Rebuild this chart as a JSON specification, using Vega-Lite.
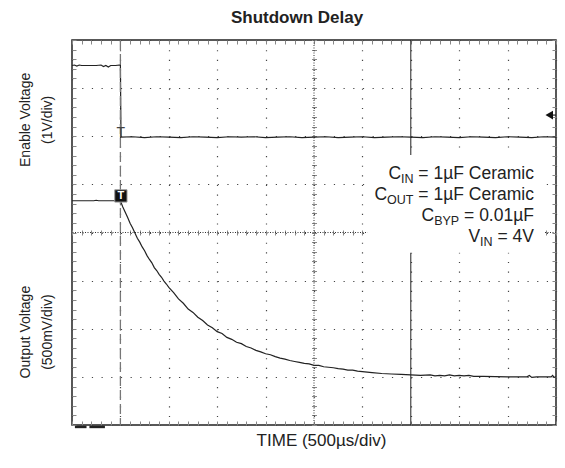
{
  "$schema": "https://vega.github.io/schema/vega-lite/v6.json",
  "width": 484,
  "height": 385,
  "autosize": "none",
  "padding": {"left": 72, "top": 40, "right": 9, "bottom": 43},
  "background": "white",
  "config": {"view": {"stroke": "#222", "strokeWidth": 1.5}, "font": "Liberation Sans"},
  "resolve": {"axis": {"x": "independent", "y": "independent"}},
  "datasets": {
    "enable": [
      {"t": 0, "v": 7.47}, {"t": 0.05, "v": 7.48}, {"t": 0.1, "v": 7.46}, {"t": 0.15, "v": 7.48}, {"t": 0.2, "v": 7.47},
      {"t": 0.3, "v": 7.47}, {"t": 0.4, "v": 7.47}, {"t": 0.5, "v": 7.47}, {"t": 0.6, "v": 7.48}, {"t": 0.65, "v": 7.45},
      {"t": 0.7, "v": 7.47}, {"t": 0.75, "v": 7.44}, {"t": 0.8, "v": 7.47}, {"t": 0.9, "v": 7.47}, {"t": 1.0, "v": 7.48},
      {"t": 1.012, "v": 5.98}, {"t": 1.25, "v": 5.99}, {"t": 1.5, "v": 5.97}, {"t": 1.75, "v": 5.99}, {"t": 2.0, "v": 5.98},
      {"t": 2.25, "v": 5.97}, {"t": 2.5, "v": 5.99}, {"t": 2.75, "v": 5.98}, {"t": 3.0, "v": 5.97}, {"t": 3.25, "v": 5.99},
      {"t": 3.5, "v": 5.98}, {"t": 3.75, "v": 5.99}, {"t": 4.0, "v": 5.97}, {"t": 4.25, "v": 5.98}, {"t": 4.5, "v": 5.99},
      {"t": 4.75, "v": 5.97}, {"t": 5.0, "v": 5.98}, {"t": 5.25, "v": 5.99}, {"t": 5.5, "v": 5.97}, {"t": 5.75, "v": 5.98},
      {"t": 6.0, "v": 5.99}, {"t": 6.25, "v": 5.97}, {"t": 6.5, "v": 5.98}, {"t": 6.75, "v": 5.99}, {"t": 7.0, "v": 5.98},
      {"t": 7.25, "v": 5.97}, {"t": 7.5, "v": 5.99}, {"t": 7.75, "v": 5.98}, {"t": 8.0, "v": 5.97}, {"t": 8.25, "v": 5.99},
      {"t": 8.5, "v": 5.98}, {"t": 8.75, "v": 5.97}, {"t": 9.0, "v": 5.99}, {"t": 9.25, "v": 5.98}, {"t": 9.5, "v": 5.97},
      {"t": 9.75, "v": 5.99}, {"t": 10, "v": 5.98}
    ],
    "output": [
      {"t": 0, "v": 4.66}, {"t": 0.3, "v": 4.66}, {"t": 0.45, "v": 4.66}, {"t": 0.5, "v": 4.67}, {"t": 0.55, "v": 4.66},
      {"t": 1.0, "v": 4.66}, {"t": 1.05, "v": 4.53}, {"t": 1.1, "v": 4.42}, {"t": 1.15, "v": 4.31}, {"t": 1.2, "v": 4.19},
      {"t": 1.25, "v": 4.10}, {"t": 1.3, "v": 3.99}, {"t": 1.35, "v": 3.88}, {"t": 1.4, "v": 3.80}, {"t": 1.45, "v": 3.70},
      {"t": 1.5, "v": 3.62}, {"t": 1.55, "v": 3.52}, {"t": 1.6, "v": 3.44}, {"t": 1.65, "v": 3.37}, {"t": 1.7, "v": 3.27},
      {"t": 1.75, "v": 3.21}, {"t": 1.8, "v": 3.13}, {"t": 1.85, "v": 3.07}, {"t": 1.9, "v": 2.99}, {"t": 1.95, "v": 2.93},
      {"t": 2.0, "v": 2.86}, {"t": 2.1, "v": 2.75}, {"t": 2.2, "v": 2.62}, {"t": 2.3, "v": 2.53}, {"t": 2.4, "v": 2.41},
      {"t": 2.5, "v": 2.34}, {"t": 2.6, "v": 2.24}, {"t": 2.7, "v": 2.17}, {"t": 2.8, "v": 2.08}, {"t": 2.9, "v": 2.02},
      {"t": 3.0, "v": 1.94}, {"t": 3.1, "v": 1.90}, {"t": 3.2, "v": 1.82}, {"t": 3.3, "v": 1.78}, {"t": 3.4, "v": 1.72},
      {"t": 3.5, "v": 1.69}, {"t": 3.6, "v": 1.63}, {"t": 3.7, "v": 1.60}, {"t": 3.8, "v": 1.55}, {"t": 3.9, "v": 1.52},
      {"t": 4.0, "v": 1.48}, {"t": 4.1, "v": 1.46}, {"t": 4.2, "v": 1.42}, {"t": 4.3, "v": 1.39}, {"t": 4.4, "v": 1.37},
      {"t": 4.5, "v": 1.34}, {"t": 4.6, "v": 1.32}, {"t": 4.7, "v": 1.30}, {"t": 4.8, "v": 1.28}, {"t": 4.9, "v": 1.27},
      {"t": 5.0, "v": 1.24}, {"t": 5.1, "v": 1.24}, {"t": 5.2, "v": 1.21}, {"t": 5.3, "v": 1.20}, {"t": 5.4, "v": 1.19},
      {"t": 5.5, "v": 1.17}, {"t": 5.6, "v": 1.16}, {"t": 5.7, "v": 1.14}, {"t": 5.8, "v": 1.14}, {"t": 5.9, "v": 1.12},
      {"t": 6.0, "v": 1.11}, {"t": 6.2, "v": 1.09}, {"t": 6.4, "v": 1.07}, {"t": 6.6, "v": 1.06}, {"t": 6.8, "v": 1.05},
      {"t": 7.0, "v": 1.04}, {"t": 7.2, "v": 1.03}, {"t": 7.4, "v": 1.04}, {"t": 7.5, "v": 1.02}, {"t": 7.6, "v": 1.03},
      {"t": 7.7, "v": 1.02}, {"t": 7.8, "v": 1.04}, {"t": 7.9, "v": 1.02}, {"t": 8.0, "v": 1.03}, {"t": 8.1, "v": 1.02},
      {"t": 8.2, "v": 1.03}, {"t": 8.3, "v": 1.01}, {"t": 8.5, "v": 1.01}, {"t": 9.0, "v": 1.0}, {"t": 9.4, "v": 1.0},
      {"t": 9.45, "v": 1.03}, {"t": 9.5, "v": 0.99}, {"t": 9.6, "v": 1.0}, {"t": 9.9, "v": 1.0}, {"t": 9.93, "v": 1.03},
      {"t": 9.96, "v": 0.99}, {"t": 10, "v": 1.0}
    ],
    "notes": [
      {"s": "C", "px": 6.798, "py": 5.104, "role": "main"},
      {"s": "= 1µF Ceramic", "px": 9.545, "py": 5.104, "role": "main"},
      {"s": "IN", "px": 7.056, "py": 5.02, "role": "sub"},
      {"s": "C", "px": 6.51, "py": 4.678, "role": "main"},
      {"s": "= 1µF Ceramic", "px": 9.545, "py": 4.678, "role": "main"},
      {"s": "OUT", "px": 7.056, "py": 4.595, "role": "sub"},
      {"s": "C", "px": 7.483, "py": 4.247, "role": "main"},
      {"s": "= 0.01µF", "px": 9.545, "py": 4.247, "role": "main"},
      {"s": "BYP", "px": 8.0, "py": 4.164, "role": "sub"},
      {"s": "V", "px": 8.432, "py": 3.811, "role": "main"},
      {"s": "= 4V", "px": 9.545, "py": 3.811, "role": "main"},
      {"s": "IN", "px": 8.69, "py": 3.728, "role": "sub"}
    ],
    "ytitles": [
      {"s": "Enable Voltage\n(1V/div)", "px": -0.95, "py": 6.34},
      {"s": "Output Voltage\n(500mV/div)", "px": -0.95, "py": 1.93}
    ],
    "gnd": [
      {"a": 0.06, "b": 0.3, "y": -0.04},
      {"a": 0.36, "b": 0.68, "y": -0.04}
    ]
  },
  "layer": [
    {
      "data": {"values": [{}]},
      "mark": {"type": "rule", "color": "#333", "strokeWidth": 1, "strokeDash": [1, 1.5]},
      "encoding": {
        "x": {"datum": 5, "type": "quantitative", "scale": {"domain": [0, 10], "nice": false, "zero": false},
          "axis": {"orient": "bottom", "offset": -195, "values": [0,0.2,0.4,0.6,0.8,1,1.2,1.4,1.6,1.8,2,2.2,2.4,2.6,2.8,3,3.2,3.4,3.6,3.8,4,4.2,4.4,4.6,4.8,5,5.2,5.4,5.6,5.8,6,6.2,6.4,6.6,6.8,7,7.2,7.4,7.6,7.8,8,8.2,8.4,8.6,8.8,9,9.2,9.4,9.6,9.8,10],
            "ticks": true, "tickSize": 5, "tickColor": "#888", "tickWidth": 1, "labels": false, "domain": false, "grid": false, "title": null}}
      }
    },
    {
      "data": {"values": [{}]},
      "mark": {"type": "rule", "color": "#333", "strokeWidth": 1, "strokeDash": [1, 1.5]},
      "encoding": {
        "y": {"datum": 4, "type": "quantitative", "scale": {"domain": [0, 8], "nice": false, "zero": false},
          "axis": {"orient": "left", "offset": -244.5, "values": [0,0.2,0.4,0.6,0.8,1,1.2,1.4,1.6,1.8,2,2.2,2.4,2.6,2.8,3,3.2,3.4,3.6,3.8,4,4.2,4.4,4.6,4.8,5,5.2,5.4,5.6,5.8,6,6.2,6.4,6.6,6.8,7,7.2,7.4,7.6,7.8,8],
            "ticks": true, "tickSize": 5, "tickColor": "#888", "tickWidth": 1, "labels": false, "domain": false, "grid": false, "title": null}}
      }
    },
    {
      "data": {"name": "enable"},
      "mark": {"type": "line", "color": "#222", "strokeWidth": 1.2},
      "encoding": {
        "x": {"field": "t", "type": "quantitative", "scale": {"domain": [0, 10], "nice": false, "zero": false},
          "axis": {"orient": "bottom", "values": [0,1,2,3,4,5,6,7,8,9,10], "grid": true, "gridColor": "#444", "gridWidth": 1.2, "gridDash": [1.2, 8.425],
            "ticks": false, "labels": false, "domain": false, "title": "TIME (500µs/div)", "titleFont": "Liberation Sans", "titleFontSize": 17,
            "titleFontWeight": "normal", "titleColor": "#222", "titlePadding": 7, "titleX": 249}},
        "y": {"field": "v", "type": "quantitative", "scale": {"domain": [0, 8], "nice": false, "zero": false},
          "axis": {"orient": "left", "values": [0,1,2,3,4,5,6,7,8], "grid": true, "gridColor": "#444", "gridWidth": 1.2, "gridDash": [1.2, 8.48],
            "ticks": false, "labels": false, "domain": false, "title": null}}
      }
    },
    {
      "data": {"name": "output"},
      "mark": {"type": "line", "color": "#222", "strokeWidth": 1.2},
      "encoding": {
        "x": {"field": "t", "type": "quantitative", "scale": {"domain": [0, 10], "nice": false, "zero": false},
          "axis": {"orient": "top", "values": [0,0.2,0.4,0.6,0.8,1,1.2,1.4,1.6,1.8,2,2.2,2.4,2.6,2.8,3,3.2,3.4,3.6,3.8,4,4.2,4.4,4.6,4.8,5,5.2,5.4,5.6,5.8,6,6.2,6.4,6.6,6.8,7,7.2,7.4,7.6,7.8,8,8.2,8.4,8.6,8.8,9,9.2,9.4,9.6,9.8,10],
            "ticks": true, "tickSize": -4, "tickColor": "#888", "tickWidth": 1, "labels": false, "domain": false, "grid": false, "title": null}},
        "y": {"field": "v", "type": "quantitative", "scale": {"domain": [0, 8], "nice": false, "zero": false},
          "axis": {"orient": "right", "values": [0,0.2,0.4,0.6,0.8,1,1.2,1.4,1.6,1.8,2,2.2,2.4,2.6,2.8,3,3.2,3.4,3.6,3.8,4,4.2,4.4,4.6,4.8,5,5.2,5.4,5.6,5.8,6,6.2,6.4,6.6,6.8,7,7.2,7.4,7.6,7.8,8],
            "ticks": true, "tickSize": -4, "tickColor": "#888", "tickWidth": 1, "labels": false, "domain": false, "grid": false, "title": null}}
      }
    },
    {
      "data": {"values": [{}]},
      "mark": {"type": "rule", "color": "#777", "strokeWidth": 1.3, "strokeDash": [10, 4]},
      "encoding": {
        "x": {"datum": 1, "type": "quantitative", "scale": {"domain": [0, 10], "nice": false, "zero": false},
          "axis": {"orient": "bottom", "values": [0,0.2,0.4,0.6,0.8,1,1.2,1.4,1.6,1.8,2,2.2,2.4,2.6,2.8,3,3.2,3.4,3.6,3.8,4,4.2,4.4,4.6,4.8,5,5.2,5.4,5.6,5.8,6,6.2,6.4,6.6,6.8,7,7.2,7.4,7.6,7.8,8,8.2,8.4,8.6,8.8,9,9.2,9.4,9.6,9.8,10],
            "ticks": true, "tickSize": -4, "tickColor": "#888", "tickWidth": 1, "labels": false, "domain": false, "grid": false, "title": null}}
      }
    },
    {
      "data": {"values": [{}]},
      "mark": {"type": "rule", "color": "#222", "strokeWidth": 1},
      "encoding": {
        "x": {"datum": 7, "type": "quantitative", "scale": {"domain": [0, 10], "nice": false, "zero": false}, "axis": null}
      }
    },
    {
      "data": {"values": [{}]},
      "mark": {"type": "rect", "fill": "white"},
      "encoding": {
        "x": {"datum": 6.1, "type": "quantitative", "scale": {"domain": [0, 10], "nice": false, "zero": false}, "axis": null},
        "x2": {"datum": 9.77},
        "y": {"datum": 3.58, "type": "quantitative", "scale": {"domain": [0, 8], "nice": false, "zero": false},
          "axis": {"orient": "left", "values": [0,0.2,0.4,0.6,0.8,1,1.2,1.4,1.6,1.8,2,2.2,2.4,2.6,2.8,3,3.2,3.4,3.6,3.8,4,4.2,4.4,4.6,4.8,5,5.2,5.4,5.6,5.8,6,6.2,6.4,6.6,6.8,7,7.2,7.4,7.6,7.8,8],
            "ticks": true, "tickSize": -4, "tickColor": "#888", "tickWidth": 1, "labels": false, "domain": false, "grid": false, "title": null}},
        "y2": {"datum": 5.61}
      }
    },
    {
      "data": {"name": "ytitles"},
      "mark": {"type": "text", "angle": 270, "align": "center", "baseline": "middle", "fontSize": 14, "lineHeight": 22, "lineBreak": "\n", "color": "#222", "font": "Liberation Sans"},
      "encoding": {
        "x": {"field": "px", "type": "quantitative", "scale": {"domain": [0, 10], "nice": false, "zero": false}, "axis": null},
        "y": {"field": "py", "type": "quantitative", "scale": {"domain": [0, 8], "nice": false, "zero": false}, "axis": null},
        "text": {"field": "s"}
      }
    },
    {
      "data": {"values": [{"s": "Shutdown Delay", "px": 4.65, "py": 8.357}]},
      "mark": {"type": "text", "align": "center", "baseline": "alphabetic", "fontSize": 17, "fontWeight": "bold", "color": "#222", "font": "Liberation Sans"},
      "encoding": {
        "x": {"field": "px", "type": "quantitative", "scale": {"domain": [0, 10], "nice": false, "zero": false}, "axis": null},
        "y": {"field": "py", "type": "quantitative", "scale": {"domain": [0, 8], "nice": false, "zero": false}, "axis": null},
        "text": {"field": "s"}
      }
    },
    {
      "data": {"name": "notes"},
      "transform": [{"filter": "datum.role == 'main'"}],
      "mark": {"type": "text", "align": "right", "baseline": "alphabetic", "fontSize": 17.5, "color": "#222", "font": "Liberation Sans"},
      "encoding": {
        "x": {"field": "px", "type": "quantitative", "scale": {"domain": [0, 10], "nice": false, "zero": false}, "axis": null},
        "y": {"field": "py", "type": "quantitative", "scale": {"domain": [0, 8], "nice": false, "zero": false}, "axis": null},
        "text": {"field": "s"}
      }
    },
    {
      "data": {"name": "notes"},
      "transform": [{"filter": "datum.role == 'sub'"}],
      "mark": {"type": "text", "align": "right", "baseline": "alphabetic", "fontSize": 12.5, "color": "#222", "font": "Liberation Sans"},
      "encoding": {
        "x": {"field": "px", "type": "quantitative", "scale": {"domain": [0, 10], "nice": false, "zero": false}, "axis": null},
        "y": {"field": "py", "type": "quantitative", "scale": {"domain": [0, 8], "nice": false, "zero": false}, "axis": null},
        "text": {"field": "s"}
      }
    },
    {
      "data": {"values": [{}]},
      "mark": {"type": "point", "shape": "square", "filled": true, "size": 150, "color": "#111", "stroke": "#999", "strokeWidth": 1, "opacity": 1},
      "encoding": {
        "x": {"datum": 1.01, "type": "quantitative", "scale": {"domain": [0, 10], "nice": false, "zero": false}, "axis": null},
        "y": {"datum": 4.76, "type": "quantitative", "scale": {"domain": [0, 8], "nice": false, "zero": false}, "axis": null}
      }
    },
    {
      "data": {"values": [{}]},
      "mark": {"type": "text", "text": "T", "align": "center", "baseline": "middle", "fontSize": 11, "fontWeight": "bold", "color": "white", "font": "Liberation Sans"},
      "encoding": {
        "x": {"datum": 1.01, "type": "quantitative", "scale": {"domain": [0, 10], "nice": false, "zero": false}, "axis": null},
        "y": {"datum": 4.76, "type": "quantitative", "scale": {"domain": [0, 8], "nice": false, "zero": false}, "axis": null}
      }
    },
    {
      "data": {"values": [{}]},
      "mark": {"type": "text", "text": "T", "align": "center", "baseline": "alphabetic", "fontSize": 14, "color": "#444", "font": "Liberation Sans"},
      "encoding": {
        "x": {"datum": 1.01, "type": "quantitative", "scale": {"domain": [0, 10], "nice": false, "zero": false}, "axis": null},
        "y": {"datum": 5.99, "type": "quantitative", "scale": {"domain": [0, 8], "nice": false, "zero": false}, "axis": null}
      }
    },
    {
      "data": {"values": [{}]},
      "mark": {"type": "rule", "color": "#222", "strokeWidth": 1.2},
      "encoding": {
        "x": {"datum": 9.87, "type": "quantitative", "scale": {"domain": [0, 10], "nice": false, "zero": false}, "axis": null},
        "x2": {"datum": 10},
        "y": {"datum": 6.44, "type": "quantitative", "scale": {"domain": [0, 8], "nice": false, "zero": false}, "axis": null}
      }
    },
    {
      "data": {"values": [{}]},
      "mark": {"type": "point", "shape": "triangle-left", "filled": true, "size": 75, "color": "#111", "opacity": 1},
      "encoding": {
        "x": {"datum": 9.86, "type": "quantitative", "scale": {"domain": [0, 10], "nice": false, "zero": false}, "axis": null},
        "y": {"datum": 6.44, "type": "quantitative", "scale": {"domain": [0, 8], "nice": false, "zero": false}, "axis": null}
      }
    },
    {
      "data": {"name": "gnd"},
      "mark": {"type": "rule", "color": "#222", "strokeWidth": 2.5},
      "encoding": {
        "x": {"field": "a", "type": "quantitative", "scale": {"domain": [0, 10], "nice": false, "zero": false}, "axis": null},
        "x2": {"field": "b"},
        "y": {"field": "y", "type": "quantitative", "scale": {"domain": [0, 8], "nice": false, "zero": false}, "axis": null}
      }
    }
  ]
}
